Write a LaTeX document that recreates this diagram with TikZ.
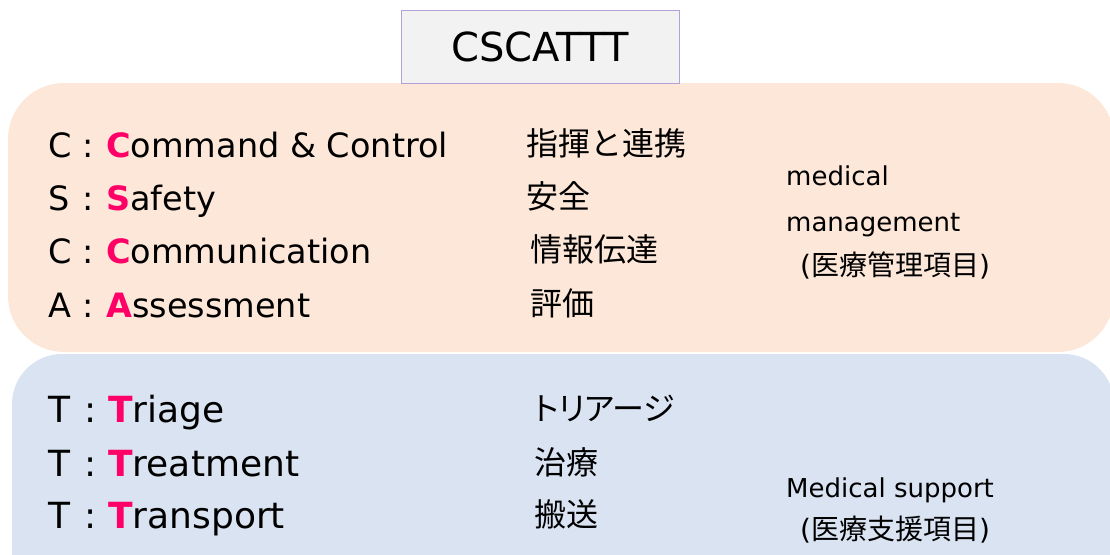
\documentclass[tikz,border=0pt]{standalone}
\usepackage{fontspec}
\setmainfont{DejaVu Sans}
\newfontfamily\jp{Noto Sans CJK JP}
\newfontfamily\jpp[RawFeature=+palt]{Noto Sans CJK JP}
\definecolor{hl}{HTML}{FF0066}
\definecolor{orangebg}{HTML}{FCE7D9}
\definecolor{bluebg}{HTML}{DAE3F2}
\definecolor{titlebg}{HTML}{F2F2F2}
\definecolor{titleline}{HTML}{B4A0D4}
\begin{document}
\begin{tikzpicture}[x=1pt,y=-1pt,
  rowa/.style={anchor=base west,inner sep=0pt,font=\fontsize{33.5}{40}\selectfont},
  rowb/.style={anchor=base west,inner sep=0pt,font=\fontsize{36}{40}\selectfont},
  jprow/.style={anchor=base west,inner sep=0pt,font=\jp\fontsize{32}{38}\selectfont},
  side/.style={anchor=base west,inner sep=0pt,font=\fontsize{26}{30}\selectfont},
  jpside/.style={anchor=base west,inner sep=0pt,font=\fontsize{28}{30}\selectfont}]
\useasboundingbox (0,0) rectangle (1110,554);
\clip (0,0) rectangle (1110,554);
\fill[orangebg,rounded corners=56pt] (8,83) rectangle (1114,352);
\fill[bluebg,rounded corners=50pt] (12,354) rectangle (1114,640);
\node[draw=titleline,line width=1pt,fill=titlebg,minimum width=278pt,minimum height=73pt,inner sep=0pt,font=\fontsize{40}{44}\selectfont] (title) at (540,46.5) {CSCATTT};
% top rows
\node[rowa] (r1l) at (48,157) {C};
\node[rowa] (r1c) at (82,157) {:};
\node[rowa] (r1) at (106,157) {\textcolor{hl}{\textbf{C}}ommand \& Control};
\node[rowa] (r2l) at (48,210) {S};
\node[rowa] (r2c) at (82,210) {:};
\node[rowa] (r2) at (106,210) {\textcolor{hl}{\textbf{S}}afety};
\node[rowa] (r3l) at (48,263) {C};
\node[rowa] (r3c) at (82,263) {:};
\node[rowa] (r3) at (106,263) {\textcolor{hl}{\textbf{C}}ommunication};
\node[rowa] (r4l) at (48,317) {A};
\node[rowa] (r4c) at (82,317) {:};
\node[rowa] (r4) at (106,317) {\textcolor{hl}{\textbf{A}}ssessment};
\node[jprow] (j1) at (526,155) {指揮と連携};
\node[jprow] (j2) at (526,208) {安全};
\node[jprow] (j3) at (530,261) {情報伝達};
\node[jprow] (j4) at (530,315) {評価};
\node[side] (m1) at (786,185) {medical};
\node[side] (m2) at (786,231) {management};
\node[jpside] (m3) at (800,275) {(\jp 医療管理項目\rmfamily)};
% bottom rows
\node[rowb] (t1l) at (48,422) {T};
\node[rowb] (t1c) at (84,422) {:};
\node[rowb] (t1) at (108,422) {\textcolor{hl}{\textbf{T}}riage};
\node[rowb] (t2l) at (48,476) {T};
\node[rowb] (t2c) at (84,476) {:};
\node[rowb] (t2) at (108,476) {\textcolor{hl}{\textbf{T}}reatment};
\node[rowb] (t3l) at (48,528) {T};
\node[rowb] (t3c) at (84,528) {:};
\node[rowb] (t3) at (108,528) {\textcolor{hl}{\textbf{T}}ransport};
\node[jprow,font=\jpp\fontsize{32}{38}\selectfont] (k1) at (534,420) {トリアージ};
\node[jprow] (k2) at (534,474) {治療};
\node[jprow] (k3) at (534,526) {搬送};
\node[side] (s1) at (786,497) {Medical support};
\node[jpside] (s2) at (800,539) {(\jp 医療支援項目\rmfamily)};
\end{tikzpicture}
\end{document}
